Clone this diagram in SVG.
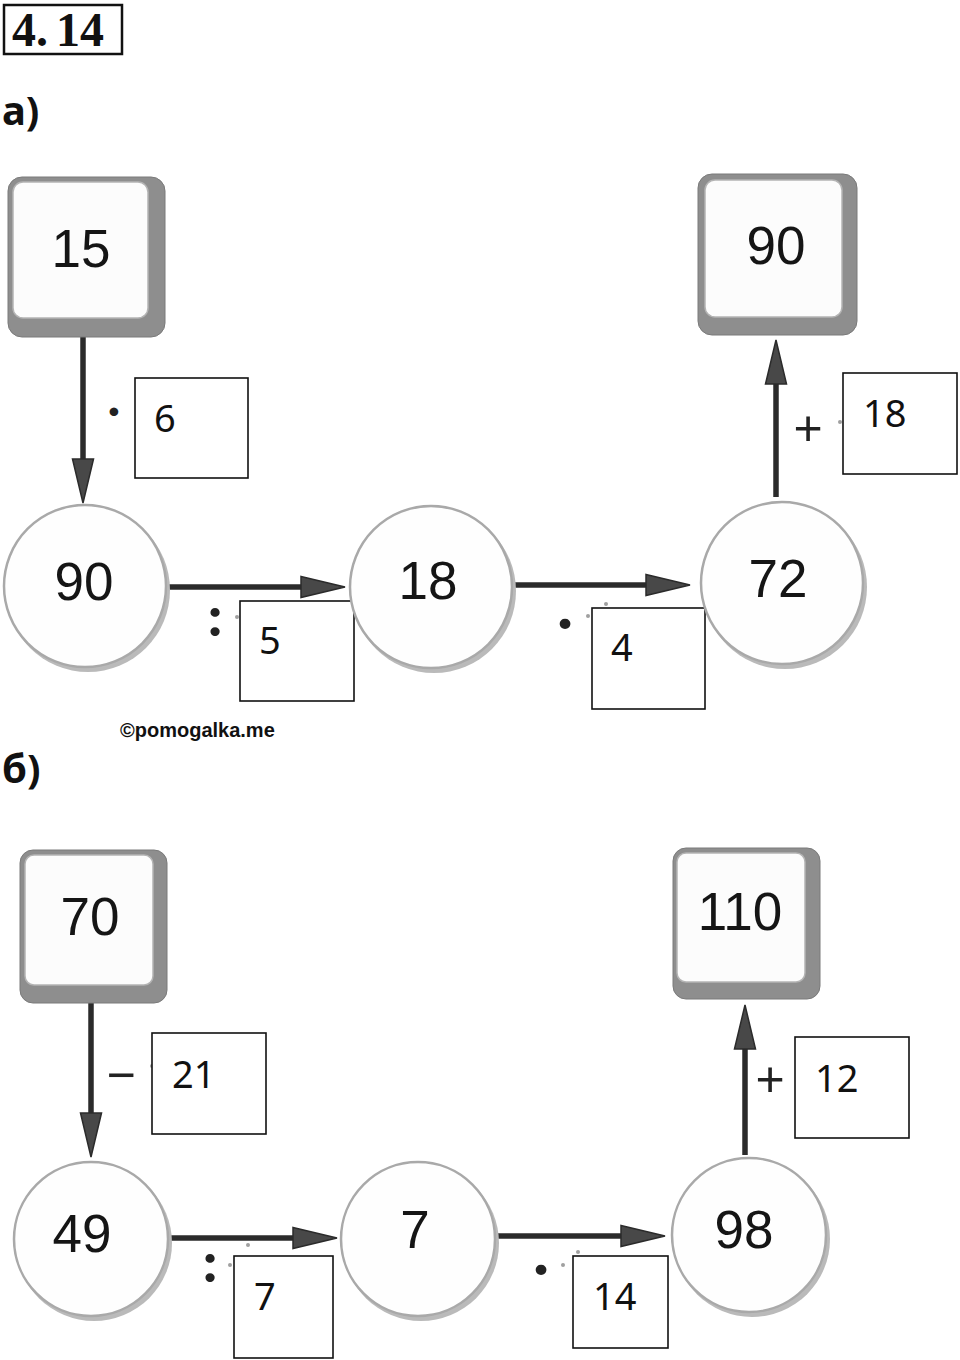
<svg xmlns="http://www.w3.org/2000/svg" width="960" height="1360" viewBox="0 0 960 1360">
<style>
.bg{fill:#ffffff}
.title{font-family:"Liberation Serif",serif;font-weight:bold;font-size:48px;fill:#111}
.part{font-family:"Noto Sans","Open Sans",sans-serif;font-weight:bold;font-size:40px;fill:#111}
.num{font-family:"Liberation Sans",Arial,sans-serif;font-size:53px;fill:#151515;text-anchor:middle}
.ans{font-family:"Noto Sans","Open Sans",sans-serif;font-size:38px;fill:#111}
.op{font-family:"Liberation Sans",Arial,sans-serif;font-size:50px;fill:#222;text-anchor:middle}
.opb{font-family:Lato,"Liberation Sans",sans-serif;font-weight:900;font-size:52px;fill:#222;text-anchor:middle}
.wm{font-family:"Liberation Sans",Arial,sans-serif;font-weight:bold;font-size:20px;fill:#111}
.sq-out{fill:#8e8e8e;stroke:#7a7a7a;stroke-width:1}
.sq-in{fill:#fcfcfc;stroke:#b4b4b4;stroke-width:1.5}
.c-sh{fill:#bababa}
.c-in{fill:#fefefe;stroke:#a9a9a9;stroke-width:2.5}
.abox{fill:#ffffff;stroke:#111;stroke-width:1.6}
.shaft{stroke:#2b2b2b;stroke-width:5.5;fill:none}
.speck{fill:#a0a0a0}
</style>
<defs>
<marker id="ah" markerUnits="userSpaceOnUse" markerWidth="46" markerHeight="24" refX="12" refY="12" orient="auto">
<path d="M1,1.5 L45,12 L1,22.5 Z" fill="#484848" stroke="#2b2b2b" stroke-width="1.5"/>
</marker>
</defs>
<rect class="bg" x="0" y="0" width="960" height="1360"/>

<g id="title">
<rect x="4" y="5" width="118" height="49" fill="none" stroke="#111" stroke-width="2.5"/>
<text class="title" x="12" y="46">4.<tspan dx="8">14</tspan></text>
</g>

<text class="part" x="2" y="125">а)</text>
<text class="part" x="2" y="783">б)</text>
<text class="wm" x="120" y="737">©pomogalka.me</text>

<g id="connectors">
<line class="shaft" x1="83" y1="337" x2="83" y2="470" marker-end="url(#ah)"/>
<line class="shaft" x1="168" y1="587" x2="312" y2="587" marker-end="url(#ah)"/>
<line class="shaft" x1="515" y1="585" x2="657" y2="585" marker-end="url(#ah)"/>
<line class="shaft" x1="776" y1="497" x2="776" y2="373" marker-end="url(#ah)"/>
<line class="shaft" x1="91" y1="1003" x2="91" y2="1124" marker-end="url(#ah)"/>
<line class="shaft" x1="170" y1="1238" x2="304" y2="1238" marker-end="url(#ah)"/>
<line class="shaft" x1="497" y1="1236" x2="632" y2="1236" marker-end="url(#ah)"/>
<line class="shaft" x1="745" y1="1155" x2="745" y2="1038" marker-end="url(#ah)"/>
</g>

<g id="operators">
<text class="opb" x="114" y="424" style="font-size:42px">·</text>
<text class="opb" x="215" y="636" style="font-size:56px">:</text>
<circle class="speck" cx="237" cy="617" r="2"/>
<text class="opb" x="565" y="639">·</text>
<circle class="speck" cx="588" cy="616" r="2"/>
<circle class="speck" cx="606" cy="604" r="2"/>
<text class="op" x="808" y="445">+</text>
<circle class="speck" cx="840" cy="422" r="2"/>
<text class="op" x="121" y="1092">−</text>
<circle class="speck" cx="152" cy="1066" r="2"/>
<text class="opb" x="210" y="1282" style="font-size:56px">:</text>
<circle class="speck" cx="230" cy="1265" r="2"/>
<circle class="speck" cx="248" cy="1245" r="2"/>
<text class="opb" x="541" y="1285">·</text>
<circle class="speck" cx="563" cy="1265" r="2"/>
<circle class="speck" cx="578" cy="1252" r="2"/>
<text class="op" x="770" y="1096">+</text>
</g>

<g id="a-start">
<rect class="sq-out" x="8" y="177" width="157" height="160" rx="14"/>
<rect class="sq-in" x="13" y="182" width="135" height="136" rx="10"/>
<text class="num" x="81" y="267">15</text>
</g>
<g id="a-op1"><rect class="abox" x="135" y="378" width="113" height="100"/><text class="ans" x="154" y="432">6</text></g>
<g id="a-c1">
<circle class="c-sh" cx="88" cy="590" r="82"/>
<circle class="c-in" cx="85" cy="586" r="81"/>
<text class="num" x="84" y="600">90</text>
</g>
<g id="a-op2"><rect class="abox" x="240" y="601" width="114" height="100"/><text class="ans" x="259" y="654">5</text></g>
<g id="a-c2">
<circle class="c-sh" cx="434" cy="591" r="82"/>
<circle class="c-in" cx="431" cy="587" r="81"/>
<text class="num" x="428" y="599">18</text>
</g>
<g id="a-op3"><rect class="abox" x="592" y="608" width="113" height="101"/><text class="ans" x="611" y="661">4</text></g>
<g id="a-c3">
<circle class="c-sh" cx="785" cy="587" r="82"/>
<circle class="c-in" cx="782" cy="583" r="81"/>
<text class="num" x="778" y="597">72</text>
</g>
<g id="a-op4"><rect class="abox" x="843" y="373" width="114" height="101"/><text class="ans" x="863" y="427">18</text></g>
<g id="a-end">
<rect class="sq-out" x="698" y="174" width="159" height="161" rx="14"/>
<rect class="sq-in" x="705" y="180" width="137" height="137" rx="10"/>
<text class="num" x="776" y="264">90</text>
</g>

<g id="b-start">
<rect class="sq-out" x="20" y="850" width="147" height="153" rx="13"/>
<rect class="sq-in" x="25" y="855" width="128" height="130" rx="9"/>
<text class="num" x="90" y="935">70</text>
</g>
<g id="b-op1"><rect class="abox" x="152" y="1033" width="114" height="101"/><text class="ans" x="172" y="1088">21</text></g>
<g id="b-c1">
<circle class="c-sh" cx="94" cy="1243" r="78"/>
<circle class="c-in" cx="91" cy="1239" r="77"/>
<text class="num" x="82" y="1252">49</text>
</g>
<g id="b-op2"><rect class="abox" x="234" y="1256" width="99" height="102"/><text class="ans" x="254" y="1310">7</text></g>
<g id="b-c2">
<circle class="c-sh" cx="421" cy="1243" r="78"/>
<circle class="c-in" cx="418" cy="1239" r="77"/>
<text class="num" x="415" y="1248">7</text>
</g>
<g id="b-op3"><rect class="abox" x="573" y="1256" width="95" height="92"/><text class="ans" x="593" y="1310">14</text></g>
<g id="b-c3">
<circle class="c-sh" cx="752" cy="1239" r="78"/>
<circle class="c-in" cx="749" cy="1235" r="77"/>
<text class="num" x="744" y="1248">98</text>
</g>
<g id="b-op4"><rect class="abox" x="795" y="1037" width="114" height="101"/><text class="ans" x="815" y="1092">12</text></g>
<g id="b-end">
<rect class="sq-out" x="673" y="848" width="147" height="151" rx="13"/>
<rect class="sq-in" x="677" y="853" width="128" height="129" rx="9"/>
<text class="num" x="740" y="930">110</text>
</g>
</svg>
